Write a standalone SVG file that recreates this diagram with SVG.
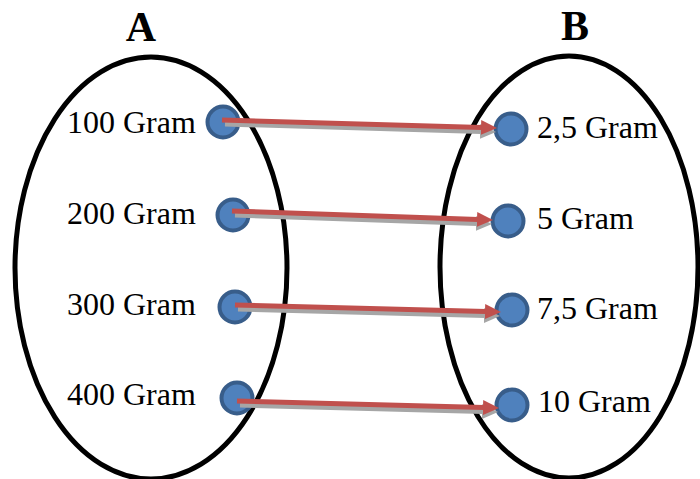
<svg xmlns="http://www.w3.org/2000/svg" width="700" height="479" viewBox="0 0 700 479">
<style>
.set{fill:none;stroke:#000;stroke-width:5}
.title{font-family:"Liberation Serif","Times New Roman",serif;font-weight:bold;font-size:42px;fill:#000;text-anchor:middle}
.lbl{font-family:"Liberation Serif","Times New Roman",serif;font-size:32px;fill:#000}
.dot{fill:#4F81BD;stroke:#385D8A;stroke-width:4}
.shaft{stroke:#C0504D;stroke-width:5;fill:none;marker-end:url(#head)}
.shadow{stroke:#A6A6A6;stroke-width:5;fill:none;marker-end:url(#headS)}
</style>
<defs>
<marker id="head" viewBox="0 -8 16 16" markerWidth="16" markerHeight="16" refX="1" refY="0" markerUnits="userSpaceOnUse" orient="auto">
<path d="M0,-7.5 L16,0 L0,7.5 z" fill="#C0504D"/>
</marker>
<marker id="headS" viewBox="0 -8 16 16" markerWidth="16" markerHeight="16" refX="1" refY="0" markerUnits="userSpaceOnUse" orient="auto">
<path d="M0,-7.5 L16,0 L0,7.5 z" fill="#A6A6A6"/>
</marker>
</defs>
<rect width="700" height="479" fill="#fff"/>
<g id="setA">
<ellipse class="set" cx="151" cy="268" rx="136" ry="211"/>
<text class="title" x="141" y="41">A</text>
</g>
<g id="setB">
<ellipse class="set" cx="569" cy="267" rx="129" ry="211"/>
<text class="title" x="575" y="40">B</text>
</g>
<g id="a100"><text class="lbl" x="67" y="133">100 Gram</text><circle class="dot" cx="223" cy="122" r="15.5"/></g>
<g id="a200"><text class="lbl" x="67" y="224">200 Gram</text><circle class="dot" cx="233" cy="215" r="15.5"/></g>
<g id="a300"><text class="lbl" x="67" y="315">300 Gram</text><circle class="dot" cx="235" cy="307" r="15.5"/></g>
<g id="a400"><text class="lbl" x="67" y="405">400 Gram</text><circle class="dot" cx="237" cy="398" r="15.5"/></g>
<g id="b25"><circle class="dot" cx="511" cy="129" r="15.5"/><text class="lbl" x="537" y="138">2,5 Gram</text></g>
<g id="b5"><circle class="dot" cx="508" cy="221" r="15.5"/><text class="lbl" x="537" y="229">5 Gram</text></g>
<g id="b75"><circle class="dot" cx="512" cy="310" r="15.5"/><text class="lbl" x="537" y="319">7,5 Gram</text></g>
<g id="b10"><circle class="dot" cx="512" cy="405" r="15.5"/><text class="lbl" x="538" y="412">10 Gram</text></g>
<g id="connectors">
<g transform="translate(-1,4)">
<line class="shadow" x1="226" y1="120" x2="482" y2="127.5"/>
<line class="shadow" x1="236" y1="211" x2="478" y2="219.5"/>
<line class="shadow" x1="239" y1="305" x2="486" y2="311.5"/>
<line class="shadow" x1="241" y1="401" x2="484" y2="407.5"/>
</g>
<line class="shaft" x1="222" y1="120" x2="482" y2="127.5"/>
<line class="shaft" x1="232" y1="211" x2="478" y2="219.5"/>
<line class="shaft" x1="235" y1="305" x2="486" y2="311.5"/>
<line class="shaft" x1="237" y1="401" x2="484" y2="407.5"/>
</g>
</svg>
